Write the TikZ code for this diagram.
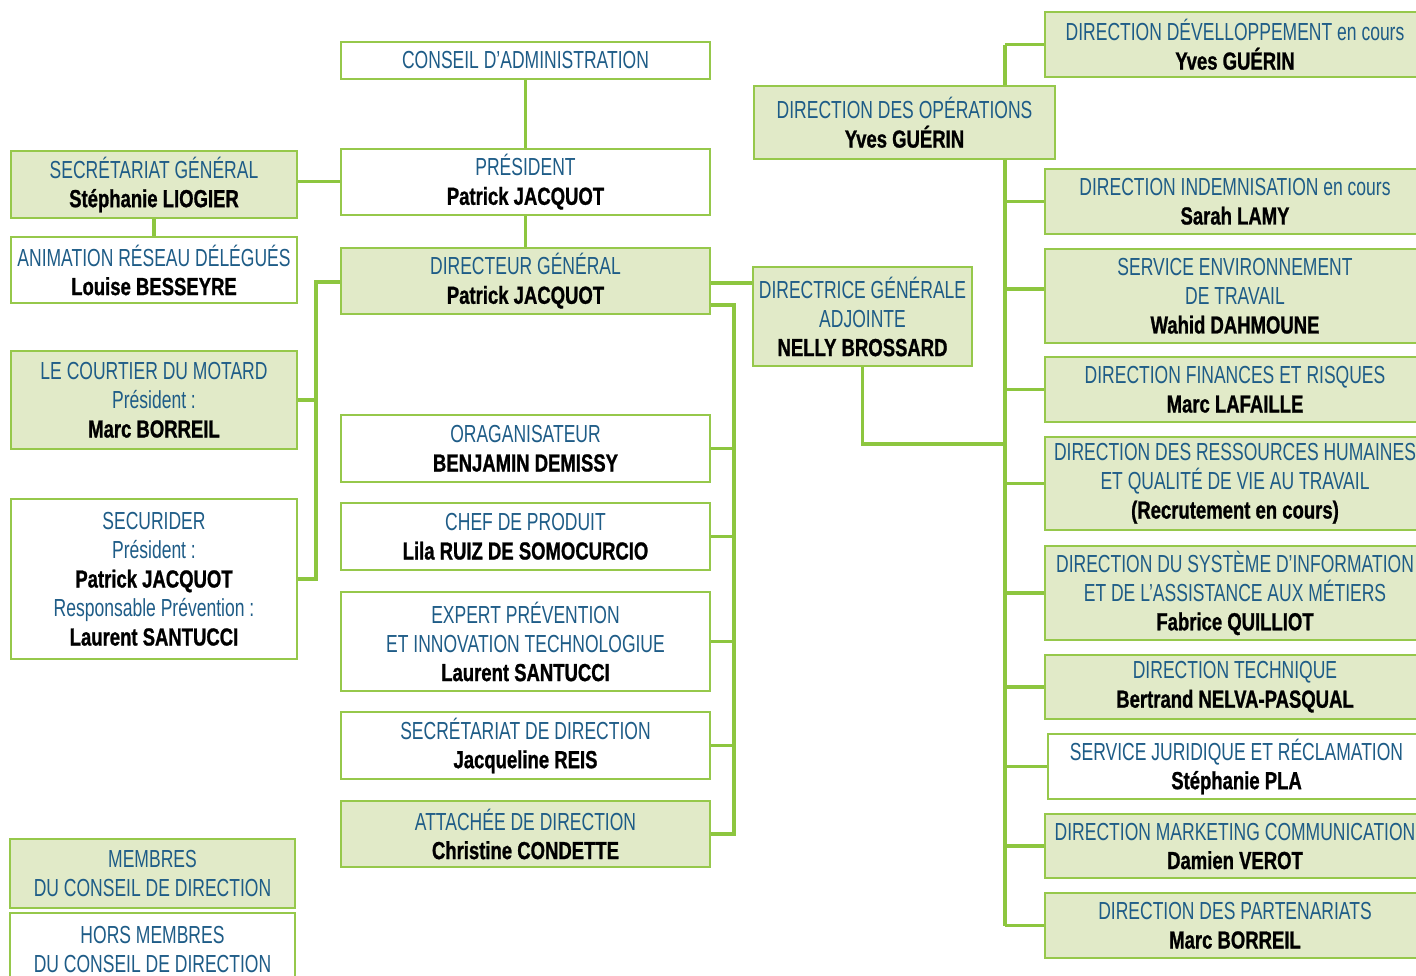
\documentclass[tikz,border=0pt]{standalone}
\usepackage{fontspec}
\usetikzlibrary{backgrounds}
\newfontfamily\bluefont{Liberation Sans}[FakeStretch=0.71]
\newfontfamily\namefont{Liberation Sans}[FakeStretch=0.75, BoldFeatures={FakeBold=1}]
\definecolor{titleblue}{RGB}{30,92,135}
\definecolor{boxfill}{RGB}{225,234,200}
\definecolor{boxline}{RGB}{150,200,75}
\definecolor{wireg}{RGB}{141,198,63}
\newcommand\nm[1]{{\namefont\bfseries\color{black}#1}}
\begin{document}
\begin{tikzpicture}[x=0.75pt,y=-0.75pt,
  box/.style={draw=boxline, line width=1.5pt, inner sep=0pt, align=center,
    font=\bluefont\fontsize{18.5}{21.75}\selectfont, text=titleblue},
  gbox/.style={box, fill=boxfill},
  wbox/.style={box, fill=white},
  wh/.style 2 args={minimum width=#1*0.75pt, minimum height=#2*0.75pt},
  wire/.style={draw=wireg, line width=2.3pt}]
\useasboundingbox (0,0) rectangle (1416,975);
\clip (0,0) rectangle (1416,975);

% left column
\node[gbox, wh={286}{67}] (sg) at (154,184.5) {SECRÉTARIAT GÉNÉRAL\\\nm{Stéphanie LIOGIER}};
\node[wbox, wh={286}{66}] (anim) at (154,270) {ANIMATION RÉSEAU DÉLÉGUÉS\\\nm{Louise BESSEYRE}};
\node[gbox, wh={286}{98}] (court) at (154,400) {LE COURTIER DU MOTARD\\Président :\\\nm{Marc BORREIL}};
\node[wbox, wh={286}{160}] (secur) at (154,579) {SECURIDER\\Président :\\\nm{Patrick JACQUOT}\\Responsable Prévention :\\\nm{Laurent SANTUCCI}};
\node[gbox, wh={285}{69}] (memb) at (152.5,873.5) {MEMBRES\\DU CONSEIL DE DIRECTION};
\node[wbox, wh={285}{73}] (hors) at (152.5,949.5) {HORS MEMBRES\\DU CONSEIL DE DIRECTION};

% central column
\node[wbox, wh={369}{37}] (conseil) at (525.5,60.5) {CONSEIL D’ADMINISTRATION};
\node[wbox, wh={369}{66}] (pres) at (525.5,182) {PRÉSIDENT\\\nm{Patrick JACQUOT}};
\node[gbox, wh={369}{66}] (dg) at (525.5,281) {DIRECTEUR GÉNÉRAL\\\nm{Patrick JACQUOT}};
\node[wbox, wh={369}{67}] (orga) at (525.5,448.5) {ORAGANISATEUR\\\nm{BENJAMIN DEMISSY}};
\node[wbox, wh={369}{67}] (chef) at (525.5,536.5) {CHEF DE PRODUIT\\\nm{Lila RUIZ DE SOMOCURCIO}};
\node[wbox, wh={369}{99}] (expert) at (525.5,641.5) {EXPERT PRÉVENTION\\ET INNOVATION TECHNOLOGIUE\\\nm{Laurent SANTUCCI}};
\node[wbox, wh={369}{67}] (secdir) at (525.5,745.5) {SECRÉTARIAT DE DIRECTION\\\nm{Jacqueline REIS}};
\node[gbox, wh={369}{66}] (attache) at (525.5,834) {ATTACHÉE DE DIRECTION\\\nm{Christine CONDETTE}};

% operations and deputy
\node[gbox, wh={301}{73}] (ops) at (904.5,122.5) {DIRECTION DES OPÉRATIONS\\\nm{Yves GUÉRIN}};
\node[gbox, wh={219}{99}] (dga) at (862.5,316.5) {DIRECTRICE GÉNÉRALE\\ADJOINTE\\\nm{NELLY BROSSARD}};

% right column
\node[gbox, wh={380}{65}] (dev) at (1235,44.5) {DIRECTION DÉVELLOPPEMENT en cours\\\nm{Yves GUÉRIN}};
\node[gbox, wh={380}{65}] (indem) at (1235,201.5) {DIRECTION INDEMNISATION en cours\\\nm{Sarah LAMY}};
\node[gbox, wh={380}{94}] (env) at (1235,296) {SERVICE ENVIRONNEMENT\\DE TRAVAIL\\\nm{Wahid DAHMOUNE}};
\node[gbox, wh={380}{65}] (fin) at (1235,389.5) {DIRECTION FINANCES ET RISQUES\\\nm{Marc LAFAILLE}};
\node[gbox, wh={380}{93}] (rh) at (1235,483.5) {DIRECTION DES RESSOURCES HUMAINES\\ET QUALITÉ DE VIE AU TRAVAIL\\\nm{(Recrutement en cours)}};
\node[gbox, wh={380}{94}] (si) at (1235,593) {DIRECTION DU SYSTÈME D’INFORMATION\\ET DE L’ASSISTANCE AUX MÉTIERS\\\nm{Fabrice QUILLIOT}};
\node[gbox, wh={380}{64}] (tech) at (1235,687) {DIRECTION TECHNIQUE\\\nm{Bertrand NELVA-PASQUAL}};
\node[wbox, wh={377}{65}] (jur) at (1236.5,766.5) {SERVICE JURIDIQUE ET RÉCLAMATION\\\nm{Stéphanie PLA}};
\node[gbox, wh={380}{64}] (mkt) at (1235,846) {DIRECTION MARKETING COMMUNICATION\\\nm{Damien VEROT}};
\node[gbox, wh={380}{65}] (part) at (1235,925.5) {DIRECTION DES PARTENARIATS\\\nm{Marc BORREIL}};

% bus lines
\coordinate (lb) at (316,0);
\coordinate (cb) at (734,0);
\coordinate (rb) at (1005,0);
\coordinate (dgaj) at (1005,444);

\begin{pgfonlayer}{background}
  \draw[wire] (conseil.south) -- (pres.north);
  \draw[wire] (pres.south) -- (dg.north);
  \draw[wire] ([yshift=2.25pt]sg.east) -- ([yshift=2.25pt]sg.east -| pres.west);
  \draw[wire] (sg.south) -- (anim.north);
  % subsidiaries
  \draw[wire] ([yshift=-0.75pt]dg.west) -- ([yshift=-0.75pt]dg.west -| lb) |- (secur.east);
  \draw[wire] (court.east) -- (court.east -| lb);
  % general management staff
  \draw[wire] ([yshift=-1.5pt]dg.east) -- ([yshift=-1.5pt]dg.east -| dga.west);
  \draw[wire] ([yshift=-18pt]dg.east) -| (cb |- attache.east) -- (attache.east);
  \foreach \n in {orga,chef,expert,secdir} \draw[wire] (\n.east) -- (\n.east -| cb);
  % operations
  \draw[wire] (dga.south) |- (dgaj);
  \draw[wire] (rb |- dev.west) -- (rb |- part.west);
  \foreach \n in {dev,indem,fin,rh,si,tech,jur,mkt,part} \draw[wire] (rb |- \n.west) -- (\n.west);
  \draw[wire] ([yshift=5.25pt]env.west -| rb) -- ([yshift=5.25pt]env.west);
\end{pgfonlayer}
\end{tikzpicture}
\end{document}
